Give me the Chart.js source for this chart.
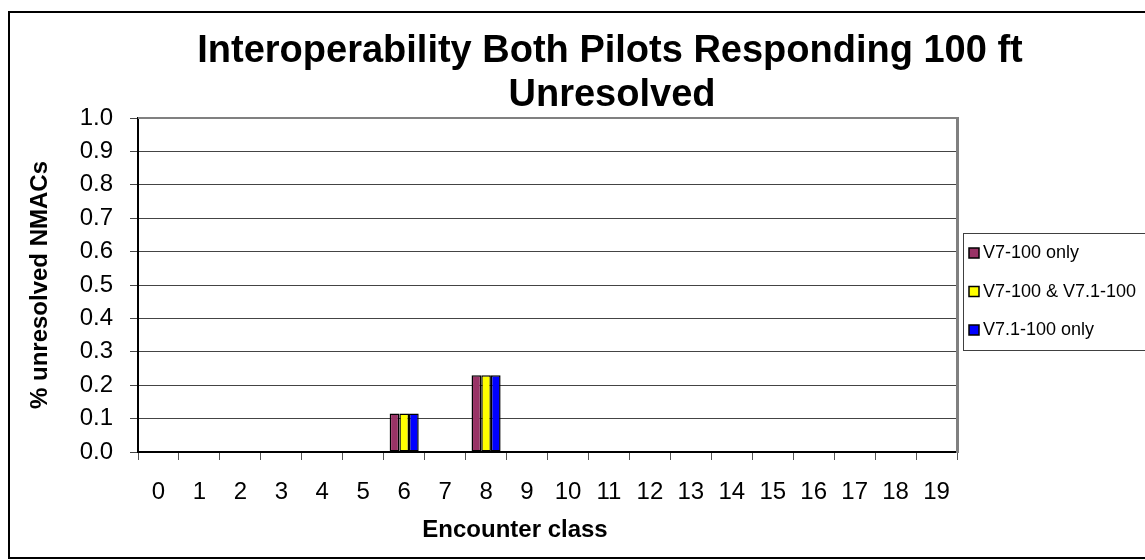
<!DOCTYPE html>
<html>
<head>
<meta charset="utf-8">
<script src="https://cdn.jsdelivr.net/npm/chart.js@4.4.1/dist/chart.umd.min.js"></script>
<style>
    html, body { margin: 0; padding: 0; background: #ffffff; }
    #wrap { width: 1145px; height: 560px; }
</style>
</head>
<body>
<div id="wrap"><canvas id="chart" width="1145" height="560"></canvas></div>
<script>
const categories = ['0', '1', '2', '3', '4', '5', '6', '7', '8', '9',
    '10', '11', '12', '13', '14', '15', '16', '17', '18', '19'];

const v7Only = [0, 0, 0, 0, 0, 0, 0.115, 0, 0.23, 0, 0, 0, 0, 0, 0, 0, 0, 0, 0, 0];
const v7AndV71 = [0, 0, 0, 0, 0, 0, 0.115, 0, 0.23, 0, 0, 0, 0, 0, 0, 0, 0, 0, 0, 0];
const v71Only = [0, 0, 0, 0, 0, 0, 0.115, 0, 0.23, 0, 0, 0, 0, 0, 0, 0, 0, 0, 0, 0];

const seriesNames = ['V7-100 only', 'V7-100 & V7.1-100', 'V7.1-100 only'];
const seriesColors = ['#993366', '#ffff00', '#0000ff'];

const yTickValues = [0, 0.1, 0.2, 0.3, 0.4, 0.5, 0.6, 0.7, 0.8, 0.9, 1.0];

const titleLines = ['Interoperability Both Pilots Responding 100 ft', 'Unresolved'];
const xTitle = 'Encounter class';
const yTitle = '% unresolved NMACs';

const FONT = "'Liberation Sans', Arial, sans-serif";

const decor = {
    id: 'decor',
    afterDraw(chart) {
        const ctx = chart.ctx;
        const area = chart.chartArea;
        ctx.save();

        // plot area frame (top and right, grey like Excel)
        ctx.strokeStyle = '#808080';
        ctx.lineWidth = 2;
        ctx.beginPath();
        ctx.moveTo(area.left, area.top);
        ctx.lineTo(area.right + 1, area.top);
        ctx.stroke();
        ctx.lineWidth = 3;
        ctx.beginPath();
        ctx.moveTo(area.right + 0.5, area.top - 1);
        ctx.lineTo(area.right + 0.5, area.bottom + 1);
        ctx.stroke();

        // outer chart border
        ctx.strokeStyle = '#000000';
        ctx.lineWidth = 2;
        ctx.strokeRect(9, 12, 1150, 546);

        // title
        ctx.fillStyle = '#000000';
        ctx.textAlign = 'center';
        ctx.textBaseline = 'alphabetic';
        ctx.font = 'bold 38px ' + FONT;
        ctx.fillText(titleLines[0], 610, 62);
        ctx.fillText(titleLines[1], 612, 106);

        // x axis title
        ctx.font = 'bold 24px ' + FONT;
        ctx.fillText(xTitle, 515, 537);

        // legend
        const lx = 963.5;
        const ly = 233.5;
        ctx.strokeStyle = '#404040';
        ctx.lineWidth = 1;
        ctx.strokeRect(lx, ly, 200, 117);
        ctx.textAlign = 'left';
        ctx.font = '18px ' + FONT;
        chart.data.datasets.forEach((ds, i) => {
            const base = 258 + i * 38.5;
            ctx.fillStyle = ds.backgroundColor;
            ctx.fillRect(969, base - 10, 10, 10);
            ctx.strokeStyle = '#000000';
            ctx.lineWidth = 1.5;
            ctx.strokeRect(969, base - 10, 10, 10);
            ctx.fillStyle = '#000000';
            ctx.fillText(ds.label, 983, base);
        });

        ctx.restore();
    }
};

const seriesData = [v7Only, v7AndV71, v71Only];

new Chart(document.getElementById('chart'), {
    type: 'bar',
    data: {
        labels: categories,
        datasets: seriesData.map((values, i) => ({
            label: seriesNames[i],
            data: values,
            backgroundColor: seriesColors[i],
            borderColor: '#000000',
            borderWidth: 1.5,
            borderSkipped: false,
            barPercentage: 1.0,
            categoryPercentage: 0.71
        }))
    },
    options: {
        responsive: false,
        animation: false,
        layout: {
            padding: { left: 8, right: 188, top: 118, bottom: 0 }
        },
        plugins: {
            legend: { display: false },
            title: { display: false },
            tooltip: { enabled: false }
        },
        scales: {
            x: {
                afterFit: (scale) => { scale.height = 108; },
                grid: {
                    drawOnChartArea: false,
                    drawTicks: true,
                    tickLength: 8,
                    color: '#555555',
                    lineWidth: 1
                },
                border: { color: '#000000', width: 2 },
                ticks: {
                    color: '#000000',
                    font: { family: FONT, size: 24 },
                    padding: 18,
                    maxRotation: 0,
                    autoSkip: false
                }
            },
            y: {
                min: 0,
                max: 1,
                afterFit: (scale) => { scale.width = 130; },
                afterBuildTicks: (scale) => {
                    scale.ticks = yTickValues.map(v => ({ value: v }));
                },
                grid: {
                    color: '#444444',
                    lineWidth: 1,
                    tickLength: 8
                },
                border: { color: '#000000', width: 2 },
                ticks: {
                    color: '#000000',
                    font: { family: FONT, size: 24 },
                    padding: 17,
                    callback: (value) => Number(value).toFixed(1)
                },
                title: {
                    display: true,
                    text: yTitle,
                    color: '#000000',
                    font: { family: FONT, size: 24, weight: 'bold' },
                    padding: { top: 18, bottom: 0 }
                }
            }
        }
    },
    plugins: [decor]
});
</script>
</body>
</html>
